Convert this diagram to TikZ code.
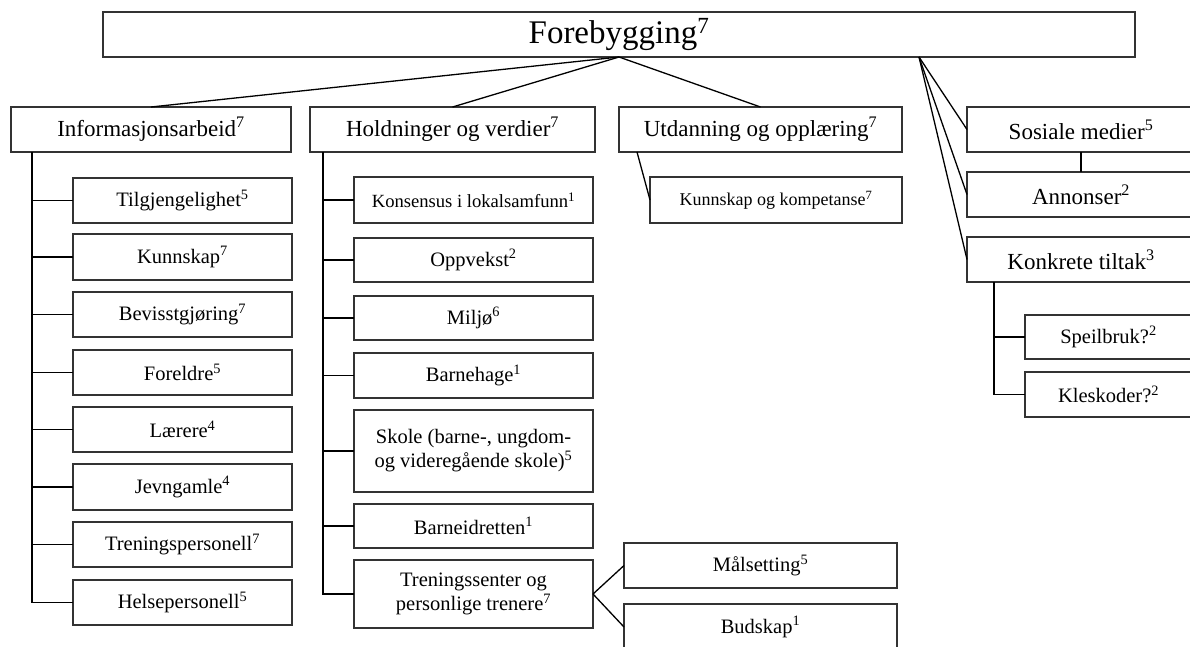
\documentclass[tikz,border=0pt]{standalone}
\usepackage{fontspec}
\setmainfont{Liberation Serif}
\usetikzlibrary{calc}
\tikzset{
  bx/.style={draw=black!80, line width=1.1pt, inner sep=2pt, outer sep=0pt, align=center, rectangle},
  toptxt/.style={font=\fontsize{33}{36}\selectfont},
  cattxt/.style={font=\fontsize{23}{26}\selectfont},
  subtxt/.style={font=\fontsize{20.5}{24}\selectfont},
  smtxt/.style={font=\fontsize{18}{21}\selectfont},
  konstxt/.style={font=\fontsize{18.6}{21}\selectfont},
  ln/.style={draw=black, line width=1.3pt},
}
% box from (x1,y1) to (x2,y2) in px, y downward
\newcommand{\bxnode}[7]{%
  \node[bx,#2,minimum width=#5-#3,minimum height=#6-#4] (#1) at ({(#3+#5)/2},{(#4+#6)/2}) {#7};}
\begin{document}
\begin{tikzpicture}[x=1pt,y=-1pt]
\useasboundingbox (0,0) rectangle (1190,646);
\clip (0,0) rectangle (1190,646);
% top
\bxnode{top}{toptxt}{103}{12}{1135}{57}{Forebygging\textsuperscript{7}}
% categories
\bxnode{info}{cattxt}{11}{107}{291}{152}{Informasjonsarbeid\textsuperscript{7}}
\bxnode{hold}{cattxt}{310}{107}{595}{152}{Holdninger og verdier\textsuperscript{7}}
\bxnode{utd}{cattxt}{619}{107}{902}{152}{Utdanning og opplæring\textsuperscript{7}}
\bxnode{sos}{cattxt}{967}{107}{1195}{152}{Sosiale medier\textsuperscript{5}}
\bxnode{ann}{cattxt}{967}{172}{1195}{217}{Annonser\textsuperscript{2}}
\bxnode{konk}{cattxt}{967}{237}{1195}{282}{Konkrete tiltak\textsuperscript{3}}
% right children
\bxnode{speil}{subtxt}{1025}{315}{1192}{359}{Speilbruk?\textsuperscript{2}}
\bxnode{kles}{subtxt}{1025}{372}{1192}{417}{Kleskoder?\textsuperscript{2}}
% utdanning child
\bxnode{kk}{smtxt}{650}{177}{902}{223}{Kunnskap og kompetanse\textsuperscript{7}}
% left children
\bxnode{tilg}{subtxt}{73}{178}{292}{223}{Tilgjengelighet\textsuperscript{5}}
\bxnode{kunn}{subtxt}{73}{234}{292}{280}{Kunnskap\textsuperscript{7}}
\bxnode{bev}{subtxt}{73}{292}{292}{337}{Bevisstgjøring\textsuperscript{7}}
\bxnode{forel}{subtxt}{73}{350}{292}{395}{Foreldre\textsuperscript{5}}
\bxnode{laer}{subtxt}{73}{407}{292}{452}{Lærere\textsuperscript{4}}
\bxnode{jevn}{subtxt}{73}{464}{292}{510}{Jevngamle\textsuperscript{4}}
\bxnode{trp}{subtxt}{73}{522}{292}{567}{Treningspersonell\textsuperscript{7}}
\bxnode{hels}{subtxt}{73}{580}{292}{625}{Helsepersonell\textsuperscript{5}}
% middle children
\bxnode{kons}{konstxt}{354}{177}{593}{223}{Konsensus i lokalsamfunn\textsuperscript{1}}
\bxnode{opp}{subtxt}{354}{238}{593}{282}{Oppvekst\textsuperscript{2}}
\bxnode{milj}{subtxt}{354}{296}{593}{340}{Miljø\textsuperscript{6}}
\bxnode{barnh}{subtxt}{354}{353}{593}{398}{Barnehage\textsuperscript{1}}
\bxnode{skole}{subtxt}{354}{410}{593}{492}{Skole (barne-, ungdom-\\og videregående skole)\textsuperscript{5}}
\bxnode{barni}{subtxt}{354}{504}{593}{548}{Barneidretten\textsuperscript{1}}
\bxnode{trs}{subtxt}{354}{560}{593}{628}{Treningssenter og\\personlige trenere\textsuperscript{7}}
% bottom children
\bxnode{mal}{subtxt}{624}{543}{897}{588}{Målsetting\textsuperscript{5}}
\bxnode{bud}{subtxt}{624}{604}{897}{650}{Budskap\textsuperscript{1}}
% hub points
\coordinate (tA) at (619,57);
\coordinate (tB) at (919,57);
\coordinate (iv) at (32,152);
\coordinate (hv) at (323,152);
\coordinate (uv) at (637,152);
\coordinate (kv) at (994,282);
% connectors from top
\draw[ln] (tA) -- (info.north);
\draw[ln] (tA) -- (hold.north);
\draw[ln] (tA) -- (utd.north);
\draw[ln] (tB) -- (sos.west);
\draw[ln] (tB) -- (ann.west);
\draw[ln] (tB) -- (konk.west);
\draw[ln] (sos.south) -- (ann.north);
% informasjonsarbeid tree
\draw[ln] (iv) |- (hels.west);
\foreach \n in {tilg,kunn,bev,forel,laer,jevn,trp}
  \draw[ln] (iv |- \n.west) -- (\n.west);
% holdninger tree
\draw[ln] (hv) |- (trs.west);
\foreach \n in {kons,opp,milj,barnh,skole,barni}
  \draw[ln] (hv |- \n.west) -- (\n.west);
% utdanning
\draw[ln] (uv) -- (kk.west);
% konkrete tiltak
\draw[ln] (kv) |- (kles.west);
\draw[ln] (kv |- speil.west) -- (speil.west);
% treningssenter
\draw[ln] (trs.east) -- (mal.west);
\draw[ln] (trs.east) -- (bud.west);
\end{tikzpicture}
\end{document}
